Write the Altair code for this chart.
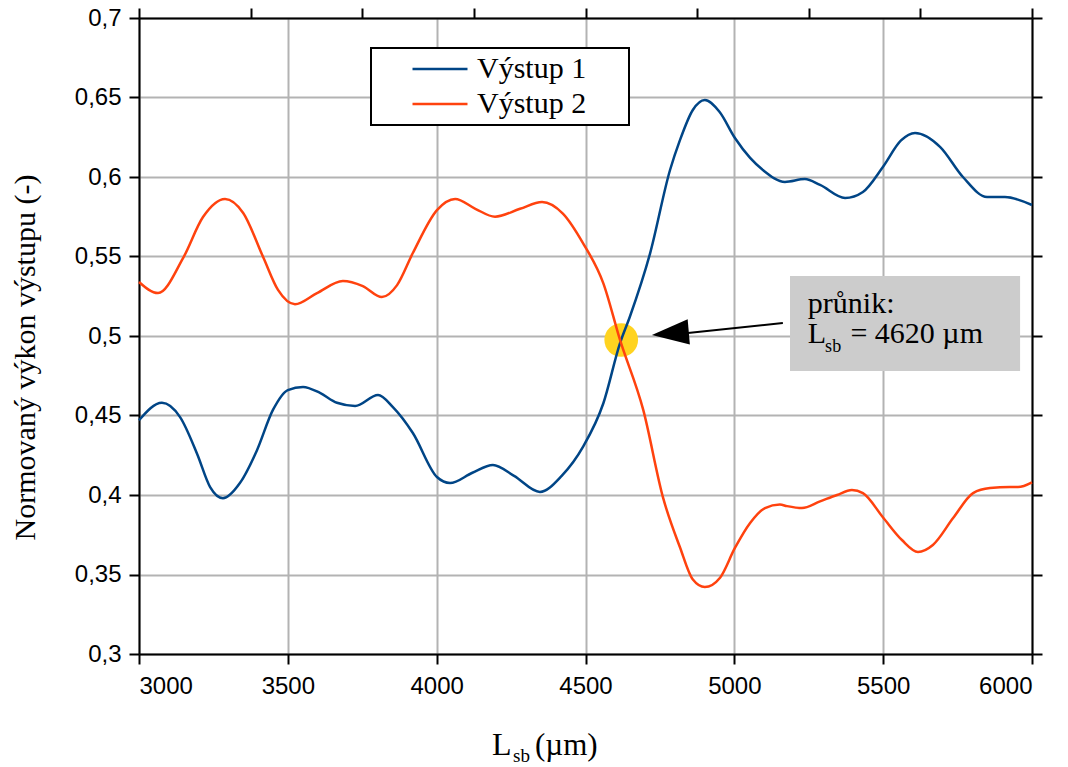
import altair as alt
import pandas as pd

# ---------------- data ----------------
series_names = ["Výstup 1", "Výstup 2"]
series_colors = ["#004586", "#ff420e"]

out1_x = [3000, 3077, 3138, 3195, 3239, 3282, 3339, 3396, 3450, 3500, 3551, 3608,
          3665, 3726, 3803, 3853, 3920, 4001, 4045, 4120, 4189, 4260, 4347, 4420,
          4492, 4560, 4616, 4649, 4717, 4784, 4817, 4860, 4901, 4950, 5002, 5053,
          5096, 5170, 5237, 5288, 5372, 5432, 5499, 5560, 5607, 5691, 5768, 5849,
          5909, 6000]
out1_y = [0.447, 0.458, 0.449, 0.426, 0.405, 0.398, 0.4075, 0.428, 0.4535, 0.466,
          0.468, 0.4642, 0.458, 0.456, 0.4629, 0.4553, 0.439, 0.4113, 0.4075, 0.414,
          0.4189, 0.412, 0.4019, 0.412, 0.4304, 0.4577, 0.4955, 0.5121, 0.552, 0.6044,
          0.623, 0.642, 0.6484, 0.641, 0.6245, 0.612, 0.6044, 0.5969, 0.5987, 0.595,
          0.5868, 0.5906, 0.6063, 0.623, 0.6277, 0.619, 0.600, 0.5874, 0.5874, 0.5824]

out2_x = [3000, 3064, 3148, 3215, 3289, 3350, 3417, 3467, 3524, 3598, 3685, 3752,
          3816, 3867, 3920, 4001, 4062, 4130, 4196, 4280, 4354, 4424, 4492, 4560,
          4616, 4694, 4761, 4817, 4860, 4901, 4952, 5002, 5053, 5103, 5153, 5177,
          5227, 5288, 5345, 5395, 5432, 5499, 5563, 5617, 5667, 5735, 5802, 5859,
          5926, 5953, 6000]
out2_y = [0.534, 0.527, 0.549, 0.5748, 0.5862, 0.5774, 0.5497, 0.529, 0.520, 0.527,
          0.5346, 0.5314, 0.5245, 0.532, 0.5522, 0.5792, 0.5862, 0.580, 0.575, 0.580,
          0.5843, 0.577, 0.5583, 0.5331, 0.4975, 0.4535, 0.398, 0.3673, 0.347, 0.3421,
          0.348, 0.3667, 0.3824, 0.3918, 0.394, 0.393, 0.3918, 0.396, 0.400, 0.4031,
          0.4012, 0.386, 0.3717, 0.3642, 0.3686, 0.3855, 0.4012, 0.4044, 0.405, 0.405,
          0.408]

x_ticks = [3000, 3500, 4000, 4500, 5000, 5500, 6000]
x_top_ticks = [3000, 3375, 3750, 4125, 4500, 4875, 5250, 5625, 6000]
y_ticks = [0.3, 0.35, 0.4, 0.45, 0.5, 0.55, 0.6, 0.65, 0.7]

intersection_x = 4620
intersection_y = 0.4975
annotation_line1 = "průnik:"
annotation_L = "L"
annotation_sub = "sb"
annotation_rest = "= 4620 µm"
y_title = "Normovaný výkon výstupu (-)"
x_title_main = "L"
x_title_sub = "sb"
x_title_unit = "(µm)"

# ---------------- build ----------------
df = pd.concat([
    pd.DataFrame({"x": out1_x, "y": out1_y, "series": series_names[0]}),
    pd.DataFrame({"x": out2_x, "y": out2_y, "series": series_names[1]}),
], ignore_index=True)
one = pd.DataFrame({"k": [0]})

SERIF = "Liberation Serif"
SANS = "Liberation Sans"

xscale = alt.Scale(domain=[3000, 6000], nice=False, zero=False)
yscale = alt.Scale(domain=[0.3, 0.7], nice=False, zero=False)

common_axis = dict(domainColor="black", domainWidth=2, tickColor="black", tickWidth=2,
                   tickSize=10, labelFont=SANS, labelFontSize=24, labelColor="black")

# label padding: non-breaking spaces followed by a zero-width space (so they are not trimmed)
label_pad = "\u00a0\u00a0\u00a0\u00a0\u2009\u200b"

lines = alt.Chart(df).mark_line(strokeWidth=2.5, interpolate="monotone").encode(
    x=alt.X("x:Q", scale=xscale,
            axis=alt.Axis(orient="bottom", values=x_ticks, format="d", title=None, grid=True,
                          gridColor="#b3b3b3", gridWidth=2, labelPadding=10, **common_axis)),
    y=alt.Y("y:Q", scale=yscale,
            axis=alt.Axis(orient="left", values=y_ticks, grid=True, gridColor="#b3b3b3",
                          gridWidth=2,
                          labelExpr="replace(format(datum.value, '.2~f'), '.', ',')",
                          labelPadding=8, title=y_title, titleFont=SERIF, titleFontSize=30,
                          titleFontWeight="normal", titleColor="black", titleAngle=270,
                          titleBaseline="alphabetic", titleX=-105, titleY=339,
                          **common_axis)),
    color=alt.Color("series:N", scale=alt.Scale(domain=series_names, range=series_colors),
                    legend=alt.Legend(title=None, orient="none", legendX=232, legendY=30,
                                      symbolType="M -2 0 L 2 0", symbolSize=756,
                                      symbolStrokeWidth=2.5, symbolOffset=48,
                                      labelOffset=22, labelFont=SERIF, labelFontSize=30,
                                      labelColor="black", padding=6, rowPadding=5,
                                      labelExpr="datum.label + '" + label_pad + "'",
                                      strokeColor="black", fillColor="white")),
)

frame = alt.Chart(df).mark_point(opacity=0).encode(
    x=alt.X("x:Q", scale=xscale,
            axis=alt.Axis(orient="top", values=x_top_ticks, labels=False, grid=False,
                          title=None, **common_axis)),
    y=alt.Y("y:Q", scale=yscale,
            axis=alt.Axis(orient="right", values=y_ticks, labels=False, grid=False,
                          title=None, **common_axis)),
)


def dx(v):
    return alt.X(datum=v, type="quantitative", scale=xscale, axis=None)


def dy(v):
    return alt.Y(datum=v, type="quantitative", scale=yscale, axis=None)


box = alt.Chart(one).mark_rect(color="#cccccc").encode(
    x=dx(5187), x2=alt.X2(datum=5960), y=dy(0.5377), y2=alt.Y2(datum=0.478),
)

dot = alt.Chart(one).mark_circle(color="#ffd320", size=1134, opacity=1).encode(
    x=dx(intersection_x), y=dy(intersection_y),
)

arrow_line = alt.Chart(one).mark_rule(color="black", strokeWidth=2).encode(
    x=dx(5163), x2=alt.X2(datum=4844), y=dy(0.5082), y2=alt.Y2(datum=0.5019),
)

arrow_head = alt.Chart(one).mark_point(
    shape="M -1 0 L 1 -0.68 L 1 0.68 Z", filled=True, color="black", opacity=1,
    size=1369, angle=355, strokeWidth=0,
).encode(x=dx(4785), y=dy(0.5016))


def ann(text, xv, yv, size):
    return alt.Chart(one).mark_text(text=text, align="left", baseline="alphabetic",
                                     font=SERIF, fontSize=size, color="black").encode(
        x=dx(xv), y=dy(yv))


t1 = ann(annotation_line1, 5247, 0.5145, 30)
t2 = ann(annotation_L, 5247, 0.4956, 30)
t3 = ann(annotation_sub, 5305, 0.4899, 18)
t4 = ann(annotation_rest, 5390, 0.4956, 30)


def pxtext(text, px, py, size):
    return alt.Chart(one).mark_text(text=text, align="left", baseline="alphabetic",
                                     font=SERIF, fontSize=size, color="black").encode(
        x=alt.value(px), y=alt.value(py))


xt1 = pxtext(x_title_main, 353, 737, 32)
xt2 = pxtext(x_title_sub, 374, 744, 19)
xt3 = pxtext(x_title_unit, 396, 737, 31)

chart = alt.layer(
    box, dot, lines, frame, arrow_line, arrow_head, t1, t2, t3, t4, xt1, xt2, xt3
).resolve_axis(x="independent", y="independent").properties(
    width=893, height=636,
    autosize=alt.AutoSizeParams(type="none"),
    padding={"left": 139, "top": 18, "right": 36, "bottom": 113},
    background="white",
).configure_view(stroke="transparent").configure_legend(strokeWidth=2)

chart.save("out.html", embed_options={"renderer": "svg", "actions": False})
